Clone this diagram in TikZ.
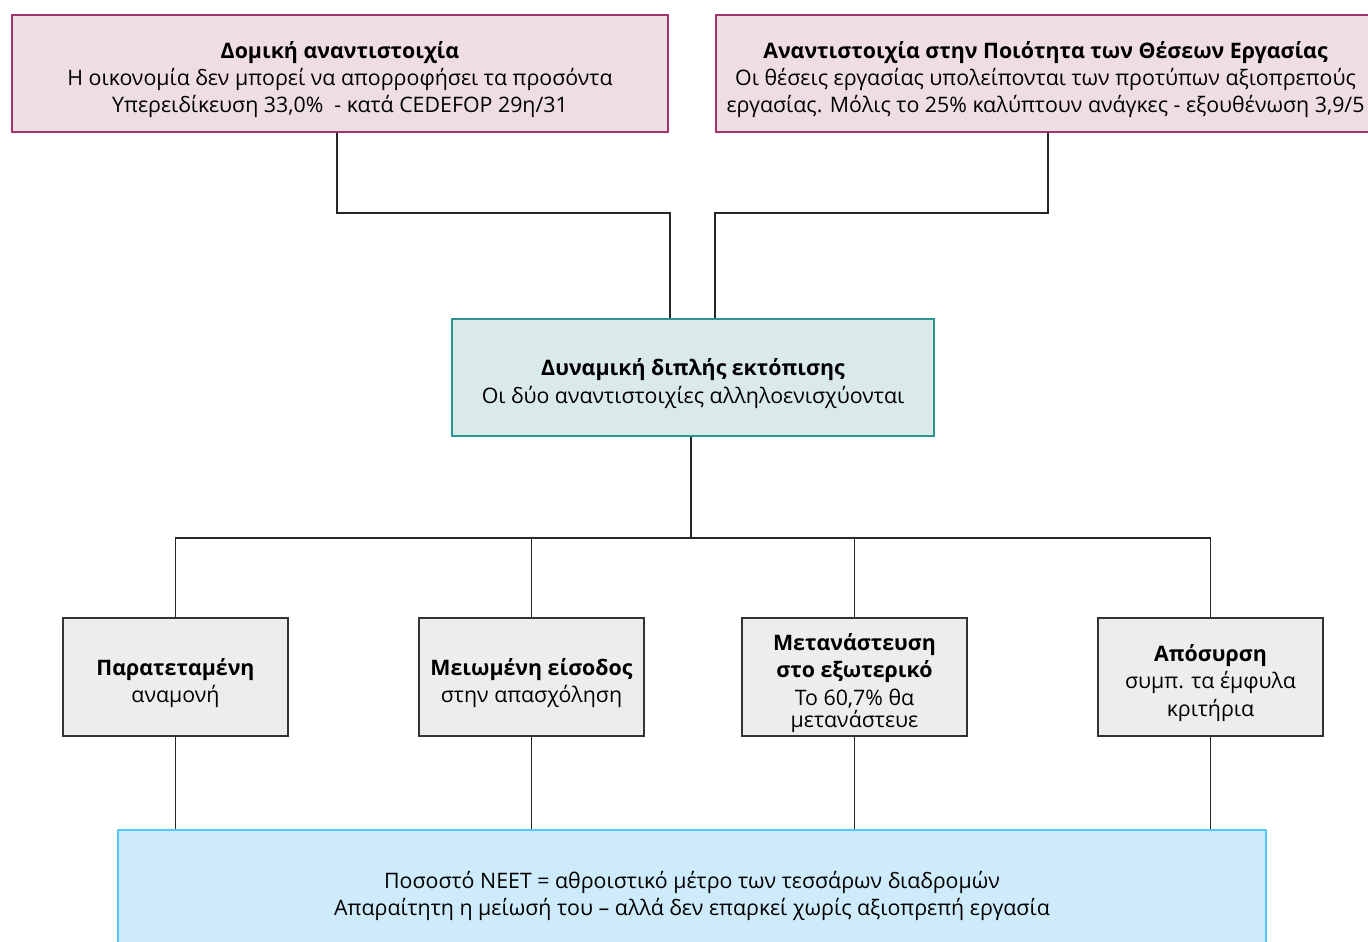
\documentclass[tikz,border=0pt]{standalone}
\usepackage{fontspec}
\setmainfont{Open Sans}
\usetikzlibrary{positioning}
\definecolor{plumline}{HTML}{A3336F}
\definecolor{plumfill}{HTML}{EEDEE3}
\definecolor{tealline}{HTML}{2A9490}
\definecolor{tealfill}{HTML}{DAE9E9}
\definecolor{skyline}{HTML}{55C8F5}
\definecolor{skyfill}{HTML}{CDEBFA}
\definecolor{greyfill}{HTML}{EDEDED}
\newcommand{\dropline}[1][16.5pt]{\rule{0pt}{#1}}
\tikzset{
  txt/.style={align=center, font=\fontsize{12.15}{15.6}\selectfont, inner sep=0pt},
  mismatch/.style={txt, draw=plumline, fill=plumfill, line width=1.4pt, minimum height=2.34cm},
  dynbox/.style={txt, draw=tealline, fill=tealfill, line width=1.3pt, minimum width=9.64cm, minimum height=2.34cm},
  pathbox/.style={txt, draw=black!80, fill=greyfill, line width=1.1pt, minimum width=4.5cm, minimum height=2.36cm},
  neetbox/.style={txt, draw=skyline, fill=skyfill, line width=1.4pt, minimum width=22.96cm, minimum height=2.52cm},
  link/.style={draw=black!85, line width=1pt}
}
\begin{document}
\begin{tikzpicture}[x=0.02cm, y=-0.02cm]
      \clip (0,0) rectangle (1368,941);
      \fill[white] (0,0) rectangle (1368,941);

      \node[mismatch, minimum width=13.12cm] (DOM) at (340,73.5) {\dropline\textbf{Δομική αναντιστοιχία}\\Η οικονομία δεν μπορεί να απορροφήσει τα προσόντα\\Υπερειδίκευση 33,0\%\ \ - κατά CEDEFOP 29η/31};
      \node[mismatch, minimum width=13.18cm] (QUAL) at (1045.5,73.5) {\dropline\textbf{Αναντιστοιχία στην Ποιότητα των Θέσεων Εργασίας}\\Οι θέσεις εργασίας υπολείπονται των προτύπων αξιοπρεπούς\\εργασίας. Μόλις το 25\% καλύπτουν ανάγκες - εξουθένωση 3,9/5};

      \node[dynbox] (DYN) at (693,377.5) {\dropline\textbf{Δυναμική διπλής εκτόπισης}\\Οι δύο αναντιστοιχίες αλληλοενισχύονται};

      \node[pathbox] (P1) at (175.5,677) {\dropline\textbf{Παρατεταμένη}\\αναμονή};
      \node[pathbox] (P2) at (531.5,677) {\dropline\textbf{Μειωμένη είσοδος}\\στην απασχόληση};
      \node[pathbox] (P3) at (854.5,677) {\dropline\textbf{Μετανάστευση}\\\textbf{στο εξωτερικό}\\Το 60,7\% θα\\[-3pt]μετανάστευε};
      \node[pathbox] (P4) at (1210.5,677) {\dropline\textbf{Απόσυρση}\\συμπ. τα έμφυλα\\κριτήρια};

      \node[neetbox] (NEET) at (692,893) {\dropline[13pt]Ποσοστό NEET = αθροιστικό μέτρο των τεσσάρων διαδρομών\\Απαραίτητη η μείωσή του -- αλλά δεν επαρκεί χωρίς αξιοπρεπή εργασία};

      \coordinate (J1) at (337,213);
      \coordinate (J2) at (1048,213);
      \coordinate (J3) at (691,538);

      \draw[link] (DOM.south -| J1) -- (J1) -| ([xshift=-0.46cm]DYN.north);
      \draw[link] (QUAL.south -| J2) -- (J2) -| ([xshift=0.44cm]DYN.north);
      \draw[link] (DYN.south -| J3) -- (J3);
      \draw[link] (P1.north) |- (J3) -| (P4.north);
      \draw[link] (P2.north) -- (P2.north |- J3);
      \draw[link] (P3.north) -- (P3.north |- J3);
      \draw[link] (P1.south) -- (P1.south |- NEET.north);
      \draw[link] (P2.south) -- (P2.south |- NEET.north);
      \draw[link] (P3.south) -- (P3.south |- NEET.north);
      \draw[link] (P4.south) -- (P4.south |- NEET.north);
    \end{tikzpicture}
\end{document}
